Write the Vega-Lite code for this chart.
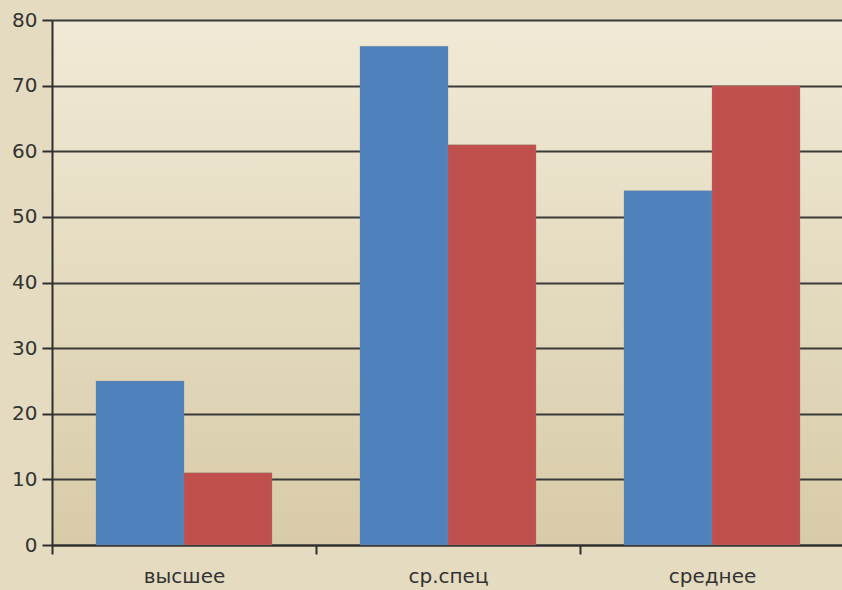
{
  "$schema": "https://vega.github.io/schema/vega-lite/v6.json",
  "autosize": {"type": "none"},
  "padding": {"left": 52, "top": 20, "right": 0, "bottom": 45},
  "width": 792,
  "height": 525,
  "background": "#E4DBC0",
  "config": {
    "view": {
      "stroke": null,
      "fill": {
        "gradient": "linear",
        "x1": 0, "y1": 0, "x2": 0, "y2": 1,
        "stops": [
          {"offset": 0, "color": "#F0EAD6"},
          {"offset": 1, "color": "#D8CBA8"}
        ]
      }
    },
    "font": "DejaVu Sans"
  },
  "data": {
    "values": [
      {"category": "высшее", "series": "A", "value": 25},
      {"category": "высшее", "series": "B", "value": 11},
      {"category": "ср.спец", "series": "A", "value": 76},
      {"category": "ср.спец", "series": "B", "value": 61},
      {"category": "среднее", "series": "A", "value": 54},
      {"category": "среднее", "series": "B", "value": 70}
    ]
  },
  "mark": {"type": "bar", "stroke": "#8a8a8a", "strokeWidth": 0.5, "strokeOpacity": 0.6},
  "encoding": {
    "x": {
      "field": "category",
      "type": "nominal",
      "sort": null,
      "scale": {"paddingInner": 0, "paddingOuter": 0},
      "axis": {
        "title": null,
        "labelAngle": 0,
        "tickBand": "extent",
        "domainColor": "#2f2f2f",
        "domainWidth": 2,
        "tickColor": "#2f2f2f",
        "tickWidth": 2,
        "tickSize": 9,
        "labelPadding": 12,
        "labelFontSize": 20,
        "labelColor": "#333333"
      }
    },
    "xOffset": {
      "field": "series",
      "type": "nominal",
      "scale": {"paddingOuter": 0.5, "paddingInner": 0}
    },
    "y": {
      "field": "value",
      "type": "quantitative",
      "scale": {"domain": [0, 80]},
      "axis": {
        "title": null,
        "values": [0, 10, 20, 30, 40, 50, 60, 70, 80],
        "labelOverlap": false,
        "grid": true,
        "gridColor": "#3a3a3a",
        "gridWidth": 2,
        "gridOpacity": 1,
        "domainColor": "#2f2f2f",
        "domainWidth": 2,
        "tickColor": "#2f2f2f",
        "tickWidth": 2,
        "tickSize": 10,
        "labelPadding": 5,
        "labelFontSize": 20,
        "labelColor": "#333333"
      }
    },
    "color": {
      "field": "series",
      "type": "nominal",
      "scale": {"domain": ["A", "B"], "range": ["#4F81BD", "#C0504D"]},
      "legend": null
    }
  }
}
